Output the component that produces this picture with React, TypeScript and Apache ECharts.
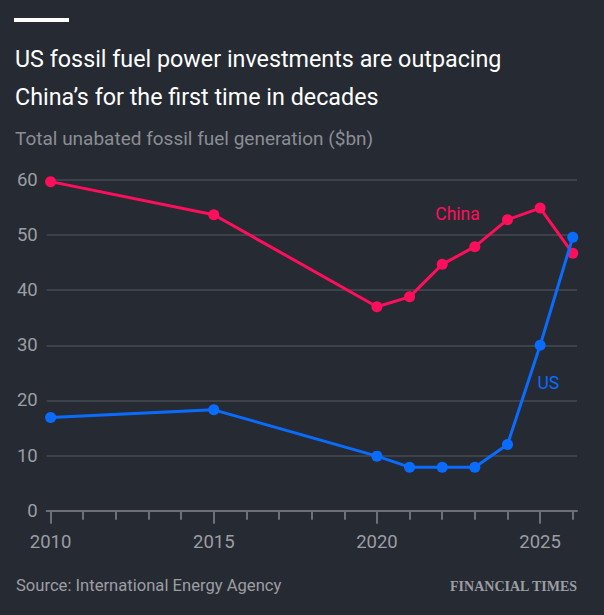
import React, { useEffect, useRef } from "react";
import * as echarts from "echarts";

const years = [2010, 2015, 2020, 2021, 2022, 2023, 2024, 2025, 2026];
const chinaValues = [59.7, 53.7, 37.0, 38.8, 44.7, 47.9, 52.8, 54.9, 46.7];
const usValues = [16.9, 18.3, 9.9, 7.9, 7.9, 7.9, 12.0, 30.0, 49.6];
const tickYears = [2010, 2011, 2012, 2013, 2014, 2015, 2016, 2017, 2018, 2019, 2020, 2021, 2022, 2023, 2024, 2025, 2026];
const labelYears = [2010, 2015, 2020, 2025];

const BG = "#262a33";
const PINK = "#ff0f5b";
const BLUE = "#0a6cff";
const GREY = "#9c9ea3";
const FONT = "Roboto, 'Noto Sans', sans-serif";

export default function App() {
  const ref = useRef<HTMLDivElement>(null);
  useEffect(() => {
    document.body.style.margin = "0";
    const chart = echarts.init(ref.current!, null, { renderer: "svg" });
    const grid = { left: 46.7, right: 27, top: 180, bottom: 104.3 };
    const xBase = { type: "value", min: 2009.88, max: 2026.13, position: "bottom" };
    chart.setOption({
      animation: false,
      backgroundColor: BG,
      grid: [grid, { ...grid }],
      xAxis: [
        {
          ...xBase,
          gridIndex: 0,
          axisLine: { show: true, lineStyle: { color: "#6d7077", width: 2 } },
          axisTick: { show: true, customValues: tickYears, length: 9, lineStyle: { color: "#6d7077", width: 2 } },
          axisLabel: {
            show: true,
            customValues: labelYears,
            color: GREY,
            fontFamily: FONT,
            fontSize: 18.5,
            margin: 22,
            formatter: (v: number) => String(Math.round(v)),
          },
          splitLine: { show: false },
        },
        {
          ...xBase,
          gridIndex: 1,
          axisLine: { show: false },
          axisTick: { show: true, customValues: labelYears, length: 13, lineStyle: { color: "#6d7077", width: 2 } },
          axisLabel: { show: false },
          splitLine: { show: false },
        },
      ],
      yAxis: [
        {
          type: "value",
          gridIndex: 0,
          min: 0,
          max: 60,
          interval: 10,
          axisLine: { show: false },
          axisTick: { show: false },
          axisLabel: {
            color: GREY,
            fontFamily: FONT,
            fontSize: 18.5,
            margin: 9,
            padding: [6, 0, 0, 0],
          },
          splitLine: { show: true, lineStyle: { color: "#464a52", width: 1.5 } },
        },
        {
          type: "value",
          gridIndex: 1,
          min: 0,
          max: 60,
          interval: 10,
          show: false,
        },
      ],
      series: [
        {
          name: "China",
          type: "line",
          xAxisIndex: 0,
          yAxisIndex: 0,
          data: years.map((y, i) => [y, chinaValues[i]]),
          symbol: "circle",
          symbolSize: 11,
          lineStyle: { color: PINK, width: 3 },
          itemStyle: { color: PINK },
          z: 3,
          markPoint: {
            symbol: "rect",
            symbolSize: 1,
            itemStyle: { color: "rgba(0,0,0,0)" },
            label: { show: true, position: "inside", formatter: "China", color: PINK, fontFamily: FONT, fontSize: 17.5 },
            data: [{ coord: [2022.47, 53.9] }],
          },
        },
        {
          name: "US",
          type: "line",
          xAxisIndex: 0,
          yAxisIndex: 0,
          data: years.map((y, i) => [y, usValues[i]]),
          symbol: "circle",
          symbolSize: 11,
          lineStyle: { color: BLUE, width: 3 },
          itemStyle: { color: BLUE },
          z: 4,
          markPoint: {
            symbol: "rect",
            symbolSize: 1,
            itemStyle: { color: "rgba(0,0,0,0)" },
            label: { show: true, position: "inside", formatter: "US", color: BLUE, fontFamily: FONT, fontSize: 17.5 },
            data: [{ coord: [2025.25, 23.1] }],
          },
        },
      ],
      graphic: [
        { type: "rect", shape: { x: 14, y: 18, width: 55, height: 4 }, style: { fill: "#ffffff" } },
        {
          type: "text",
          x: 15,
          y: 58.5,
          style: { text: "US fossil fuel power investments are outpacing", font: `400 23.3px ${FONT}`, fill: "#ffffff", verticalAlign: "middle", align: "left" },
        },
        {
          type: "text",
          x: 15,
          y: 97,
          style: { text: "China’s for the first time in decades", font: `400 23.3px ${FONT}`, fill: "#ffffff", verticalAlign: "middle", align: "left" },
        },
        {
          type: "text",
          x: 15,
          y: 138,
          style: { text: "Total unabated fossil fuel generation ($bn)", font: `400 19px ${FONT}`, fill: "#8b8e94", verticalAlign: "middle", align: "left" },
        },
        {
          type: "text",
          x: 16,
          y: 585,
          style: { text: "Source: International Energy Agency", font: `400 16.6px ${FONT}`, fill: GREY, verticalAlign: "middle", align: "left" },
        },
        {
          type: "text",
          x: 577,
          y: 586,
          style: { text: "FINANCIAL TIMES", font: `700 14px 'Liberation Serif', 'DejaVu Serif', serif`, fill: GREY, verticalAlign: "middle", align: "right" },
        },
      ],
    });
    return () => chart.dispose();
  }, []);
  return <div ref={ref} style={{ position: "fixed", left: 0, top: 0, width: 604, height: 615 }} />;
}
